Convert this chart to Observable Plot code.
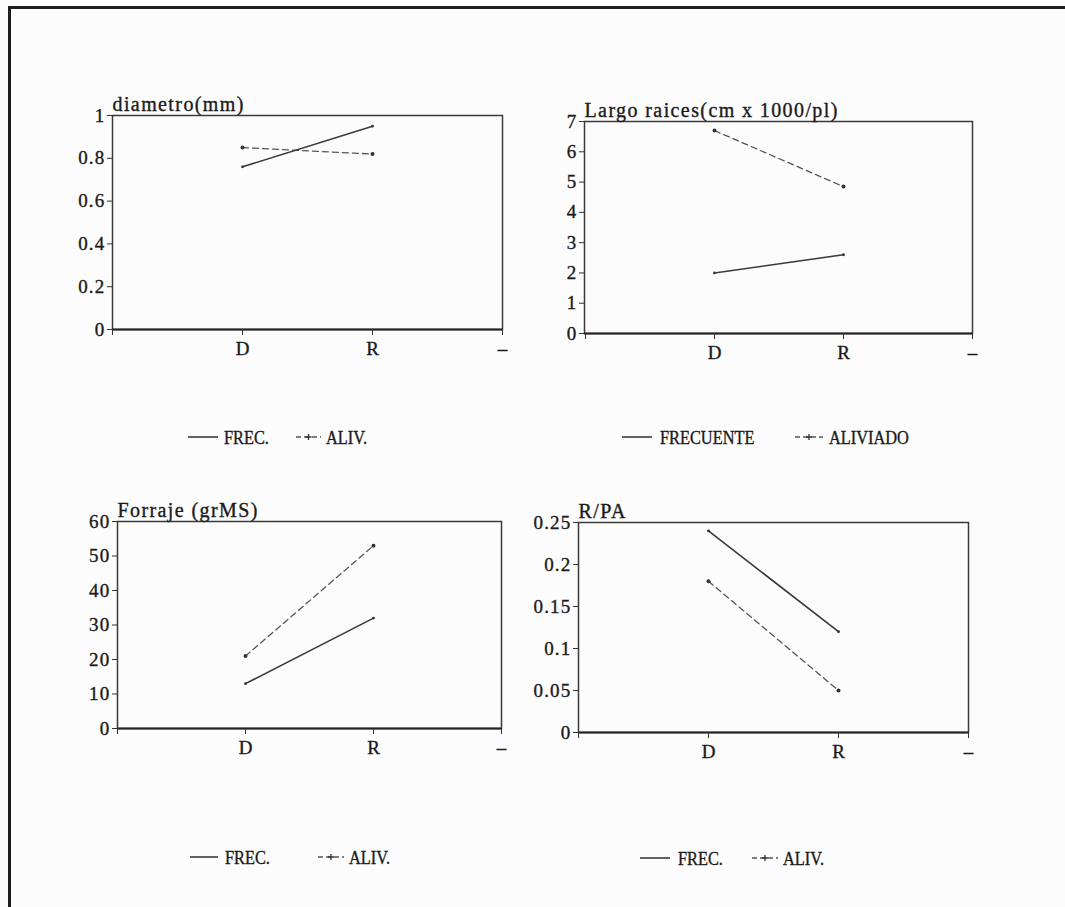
<!DOCTYPE html>
<html>
<head>
<meta charset="utf-8">
<script src="https://cdn.jsdelivr.net/npm/d3@7"></script>
<script src="https://cdn.jsdelivr.net/npm/@observablehq/plot@0.6"></script>
<style>
  html, body { margin: 0; padding: 0; background: #fcfcfc; }
  #page { position: relative; width: 1065px; height: 907px; overflow: hidden; background: #fcfcfc; }
  #outer { position: absolute; left: 8px; top: 6px; width: 1100px; height: 950px;
           border-top: 3px solid #1e1e1e; border-left: 3px solid #1e1e1e; }
  #page svg { position: absolute; overflow: visible; }
  #page svg text { stroke: #1a1a1a; stroke-width: 0.35px; }
  g[aria-label="text"] text { letter-spacing: 1.4px; }
  g[aria-label="y-axis tick label"] text { letter-spacing: 1.2px; }
  .lg { position: absolute; font-family: "Liberation Serif", serif; font-size: 19px; color: #1a1a1a;
        white-space: nowrap; line-height: 1; transform: scaleX(0.86); transform-origin: 0 50%;
        -webkit-text-stroke: 0.35px #1a1a1a; }
</style>
</head>
<body>
<div id="page"><div id="outer"></div></div>
<script>
// ---- data ----
const categories = ["D", "R"];
const series = ["FREC.", "ALIV."];
const xSlots = ["", "D", "R", "–"];

const diametroFrec = [0.76, 0.95];
const diametroAliv = [0.85, 0.82];
const largoFrec = [2.0, 2.6];
const largoAliv = [6.7, 4.85];
const forrajeFrec = [13, 32];
const forrajeAliv = [21, 53];
const rpaFrec = [0.24, 0.12];
const rpaAliv = [0.18, 0.05];

const titles = ["diametro(mm)", "Largo raices(cm x 1000/pl)", "Forraje (grMS)", "R/PA"];
const yTicksDiametro = [0, 0.2, 0.4, 0.6, 0.8, 1];
const yTicksLargo = [0, 1, 2, 3, 4, 5, 6, 7];
const yTicksForraje = [0, 10, 20, 30, 40, 50, 60];
const yTicksRpa = [0, 0.05, 0.1, 0.15, 0.2, 0.25];

const legendLabels = [
  ["FREC.", "ALIV."],
  ["FRECUENTE", "ALIVIADO"],
  ["FREC.", "ALIV."],
  ["FREC.", "ALIV."]
];

// ---- drawing ----
const page = document.getElementById("page");

function panel({box, yTicks, title, frec, aliv}) {
  const [x0, x1, y0, y1] = box;
  const mL = 80, mR = 30, mT = 40, mB = 50;
  const frecRows = categories.map((c, i) => ({x: c, y: frec[i], s: series[0]}));
  const alivRows = categories.map((c, i) => ({x: c, y: aliv[i], s: series[1]}));
  const fig = Plot.plot({
    width: (x1 - x0) + mL + mR,
    height: (y1 - y0) + mT + mB,
    marginLeft: mL, marginRight: mR, marginTop: mT, marginBottom: mB,
    x: {type: "point", domain: xSlots, padding: 0},
    y: {type: "linear", domain: [yTicks[0], yTicks[yTicks.length - 1]]},
    style: {fontFamily: "Liberation Serif, serif", fontSize: "19px", color: "#1a1a1a", background: "transparent"},
    marks: [
      Plot.frame({stroke: "#3a3a3a", strokeWidth: 1.5}),
      Plot.ruleY([yTicks[0]], {stroke: "#222", strokeWidth: 2.2}),
      Plot.axisY({ticks: yTicks, tickSize: 5, tickPadding: 2, tickFormat: d => String(d),
                  label: null, stroke: "#333", fontSize: 19}),
      Plot.axisX({ticks: xSlots, tickSize: 6, tickPadding: 6, label: null, stroke: "#333", fontSize: 19}),
      Plot.line(alivRows, {x: "x", y: "y", stroke: "#555", strokeWidth: 1.3, strokeDasharray: "6,4"}),
      Plot.line(frecRows, {x: "x", y: "y", stroke: "#3a3a3a", strokeWidth: 1.6}),
      Plot.dot(alivRows, {x: "x", y: "y", r: 2, fill: "#333", stroke: "none"}),
      Plot.dot(frecRows, {x: "x", y: "y", r: 1.4, fill: "#333", stroke: "none"}),
      Plot.text([title], {text: d => d, frameAnchor: "top-left", textAnchor: "start",
                          lineAnchor: "bottom", dy: -5, fontSize: 20, fill: "#1a1a1a"})
    ]
  });
  fig.style.left = (x0 - mL) + "px";
  fig.style.top = (y0 - mT) + "px";
  page.appendChild(fig);
}

function legend({y, labels, items}) {
  items.forEach((it, k) => {
    const sw = document.createElementNS("http://www.w3.org/2000/svg", "svg");
    const w = it.s1 - it.s0;
    sw.setAttribute("width", w);
    sw.setAttribute("height", 10);
    sw.style.left = it.s0 + "px";
    sw.style.top = (y - 5) + "px";
    const ln = document.createElementNS("http://www.w3.org/2000/svg", "line");
    ln.setAttribute("x1", 0); ln.setAttribute("x2", w);
    ln.setAttribute("y1", 5); ln.setAttribute("y2", 5);
    ln.setAttribute("stroke", k === 0 ? "#3a3a3a" : "#555");
    ln.setAttribute("stroke-width", k === 0 ? 1.6 : 1.3);
    if (k === 1) ln.setAttribute("stroke-dasharray", "5,3");
    sw.appendChild(ln);
    if (k === 1) {
      const p = document.createElementNS("http://www.w3.org/2000/svg", "path");
      const c = w / 2;
      p.setAttribute("d", `M${c - 3},5H${c + 3}M${c},2V8`);
      p.setAttribute("stroke", "#333");
      p.setAttribute("stroke-width", 1.3);
      sw.appendChild(p);
    }
    page.appendChild(sw);
    const t = document.createElement("div");
    t.className = "lg";
    t.textContent = labels[k];
    t.style.left = it.t + "px";
    t.style.top = (y - 9) + "px";
    page.appendChild(t);
  });
}

panel({box: [112, 502, 115, 329], yTicks: yTicksDiametro, title: titles[0], frec: diametroFrec, aliv: diametroAliv});
panel({box: [584, 972, 121, 333], yTicks: yTicksLargo, title: titles[1], frec: largoFrec, aliv: largoAliv});
panel({box: [117, 501, 521, 728], yTicks: yTicksForraje, title: titles[2], frec: forrajeFrec, aliv: forrajeAliv});
panel({box: [578, 968, 522, 732], yTicks: yTicksRpa, title: titles[3], frec: rpaFrec, aliv: rpaAliv});

legend({y: 437, labels: legendLabels[0], items: [{s0: 188, s1: 218, t: 224}, {s0: 296, s1: 321, t: 326}]});
legend({y: 437, labels: legendLabels[1], items: [{s0: 622, s1: 652, t: 660}, {s0: 795, s1: 823, t: 829}]});
legend({y: 857, labels: legendLabels[2], items: [{s0: 190, s1: 218, t: 225}, {s0: 318, s1: 344, t: 349}]});
legend({y: 858, labels: legendLabels[3], items: [{s0: 640, s1: 670, t: 678}, {s0: 752, s1: 778, t: 783}]});
</script>
</body>
</html>
